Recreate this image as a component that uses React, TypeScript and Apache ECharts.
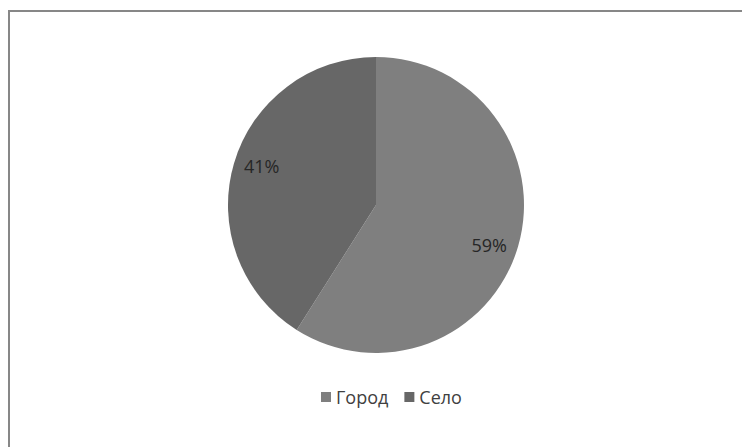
import React, { useEffect, useRef } from "react";
import * as echarts from "echarts";

const categories = ["Город", "Село"];
const values = [59, 41];
const colors = ["#7f7f7f", "#676767"];
const labelOffsets = [[-2, 7], [1, -6]];

export default function App() {
  const ref = useRef<HTMLDivElement>(null);
  useEffect(() => {
    document.body.style.margin = "0";
    const chart = echarts.init(ref.current!, null, { renderer: "svg" });
    const data = categories.map((name, i) => ({
      name,
      value: values[i],
      itemStyle: { color: colors[i] },
    }));
    chart.setOption({
      animation: false,
      backgroundColor: "#ffffff",
      legend: {
        left: 316,
        top: 383,
        itemWidth: 10,
        itemHeight: 10,
        itemGap: 16,
        icon: "rect",
        textStyle: { fontFamily: "Open Sans", fontSize: 18, color: "#404040", padding: [0, 0, 0, 0] },
        data: categories.map((name, i) => ({ name, itemStyle: { color: colors[i] } })),
      },
      graphic: [
        { type: "line", shape: { x1: 9, y1: 11, x2: 742, y2: 11 }, style: { stroke: "#878787", lineWidth: 2 } },
        { type: "line", shape: { x1: 9, y1: 10, x2: 9, y2: 447 }, style: { stroke: "#878787", lineWidth: 2 } },
      ],
      series: [
        {
          type: "pie",
          center: [376, 205],
          radius: [0, 148],
          startAngle: 90,
          clockwise: true,
          label: { show: false },
          labelLine: { show: false },
          silent: true,
          data,
        },
        {
          type: "pie",
          center: [376, 205],
          radius: [86, 148],
          startAngle: 90,
          clockwise: true,
          silent: true,
          itemStyle: { color: "transparent" },
          label: {
            show: true,
            position: "inside",
            formatter: "{c}%",
            fontFamily: "Open Sans",
            fontSize: 18,
            color: "#262626",
          },
          labelLine: { show: false },
          data: categories.map((name, i) => ({
            name,
            value: values[i],
            itemStyle: { color: "transparent" },
            label: { offset: labelOffsets[i] },
          })),
        },
      ],
    });
    return () => chart.dispose();
  }, []);
  return <div ref={ref} style={{ width: 742, height: 447 }} />;
}
